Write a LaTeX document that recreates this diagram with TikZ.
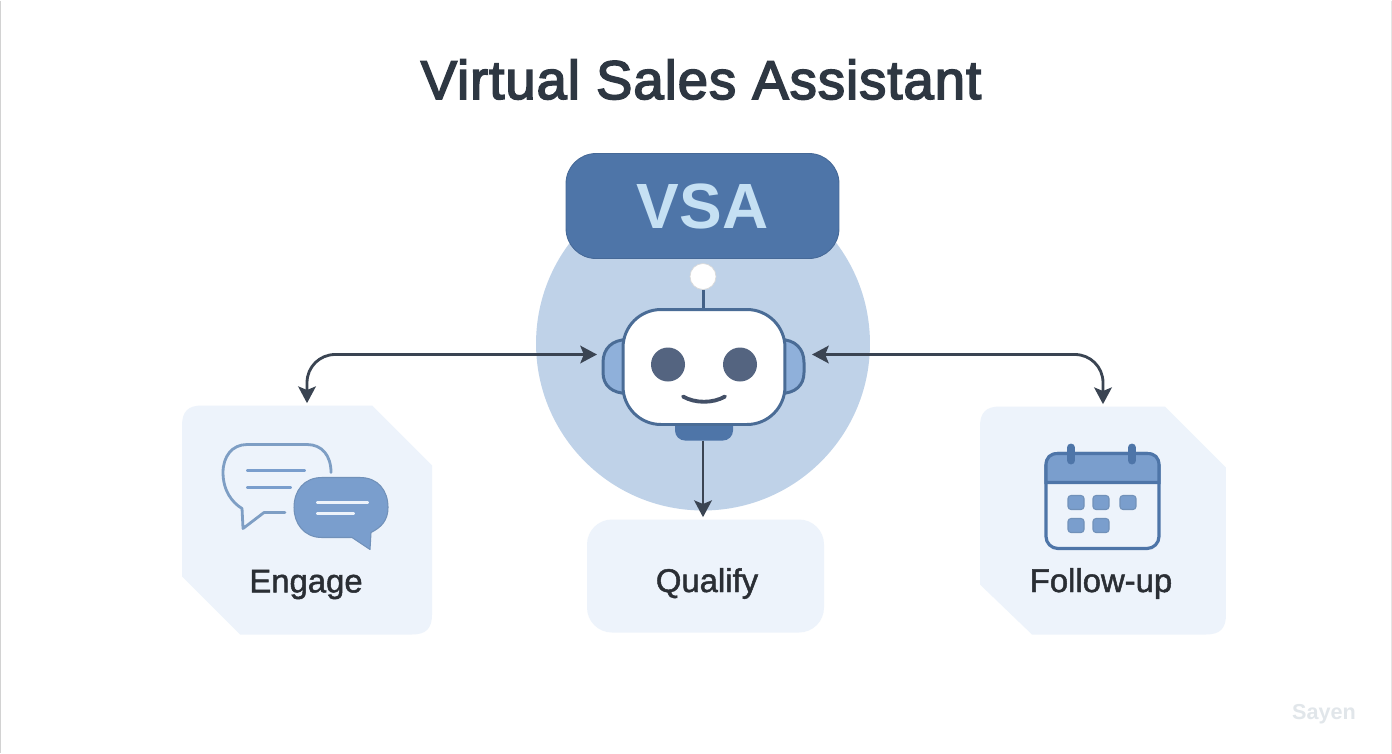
\documentclass[tikz,border=0pt]{standalone}
\usepackage{fontspec}
\setmainfont{Liberation Sans}
\newfontfamily\titlefont[FakeBold=3,LetterSpace=1.8]{Liberation Sans}
\newfontfamily\labelfont[FakeBold=1.5]{Liberation Sans}
\usepackage{tikz}
\usetikzlibrary{positioning,calc,arrows.meta}
\definecolor{titlecolor}{RGB}{46, 55, 66}
\definecolor{labelcolor}{RGB}{42, 46, 52}
\definecolor{cardcolor}{RGB}{237, 243, 251}
\definecolor{circlecolor}{RGB}{191, 210, 232}
\definecolor{badgecolor}{RGB}{78, 117, 168}
\definecolor{badgetext}{RGB}{197, 224, 243}
\definecolor{robotline}{RGB}{74, 108, 150}
\definecolor{earcolor}{RGB}{143, 176, 218}
\definecolor{eyecolor}{RGB}{84, 100, 128}
\definecolor{arrowcolor}{RGB}{58, 68, 82}
\definecolor{iconfill}{RGB}{122, 158, 205}
\definecolor{iconline}{RGB}{126, 158, 196}
\definecolor{markcolor}{RGB}{225, 230, 234}
\begin{document}
\begin{tikzpicture}[
    x=0.02cm, y=-0.02cm,
    title/.style={font=\titlefont\fontsize{31}{36}\selectfont, text=titlecolor, inner sep=0pt},
    label/.style={font=\labelfont\fontsize{18.7}{22}\selectfont, text=labelcolor, inner sep=0pt},
    card/.style={fill=cardcolor},
    anchorbox/.style={inner sep=0pt, minimum height=4.56cm},
    robot/.style={draw=robotline, line width=1.7pt},
    link/.style={{Stealth[length=9.5pt,width=10pt,inset=2pt]}-{Stealth[length=9.5pt,width=10pt,inset=2pt]}, arrowcolor, line width=1.6pt, rounded corners=0.56cm},
    oneway/.style={-{Stealth[length=9.5pt,width=10pt,inset=2pt]}, arrowcolor, line width=1.6pt},
    iconrule/.style={line width=2.2pt, line cap=round},
    daybox/.style={fill=iconfill, draw=badgecolor!80, line width=0.6pt, rounded corners=0.06cm, minimum width=0.32cm, minimum height=0.28cm, inner sep=0pt}
]
    % Page
    \fill[white] (0,0) rectangle (1392,752);
    \draw[gray!35, line width=0.6pt] (0.5,0) -- (0.5,752);
    \draw[gray!20, line width=0.6pt] (1391.5,0) -- (1391.5,752);

    % Title
    \node[title] (heading) at (701,79) {Virtual Sales Assistant};

    % Cards
    \fill[card] (182,425) .. controls (182,411) and (188,405) .. (202,405) -- (372,405) -- (432,465) -- (432,614)
        .. controls (432,628) and (426,634) .. (412,634) -- (240,634) -- (182,576) -- cycle;
    \fill[card, rounded corners=0.5cm] (587,519) rectangle (824,632);
    \fill[card] (980,426) .. controls (980,412) and (986,406) .. (1000,406) -- (1165,406) -- (1226,467) -- (1226,614)
        .. controls (1226,628) and (1220,634) .. (1206,634) -- (1032,634) -- (980,584) -- cycle;

    % Circle behind the robot
    \node[circle, fill=circlecolor, minimum size=6.68cm, inner sep=0pt] (disc) at (703,343) {};

    % Badge
    \node[fill=badgecolor, draw=badgecolor!90!black, line width=0.5pt, rounded corners=0.6cm,
          minimum width=5.46cm, minimum height=2.1cm, text=badgetext,
          font=\fontsize{36.4}{40}\selectfont\bfseries] (badge) at (702.5,205.5) {VSA};

    % Robot ears
    \draw[robot, fill=earcolor] (628,339) .. controls (612,339) and (603,348) .. (603,362) -- (603,372)
        .. controls (603,385) and (612,393) .. (628,393) -- cycle;
    \draw[robot, fill=earcolor] (780,339) .. controls (795,339) and (804,348) .. (804,362) -- (804,372)
        .. controls (804,385) and (795,393) .. (780,393) -- cycle;

    % Robot neck
    \fill[badgecolor, rounded corners=0.2cm] (675,415) -- (733,415) -- (733,440) -- (675,440) -- cycle;

    % Robot antenna
    \node[circle, fill=white, draw=white!85!black, line width=0.4pt, minimum size=0.52cm, inner sep=0pt] (ball) at (703,276) {};
    \coordinate (headtop) at (703,309);
    \draw[robotline!90!black, line width=1.7pt] (ball) -- (headtop);

    % Robot head
    \node[robot, fill=white, rounded corners=0.76cm, minimum width=3.24cm, minimum height=2.3cm, inner sep=0pt] (head) at (704,366.5) {};
    \node[circle, fill=eyecolor, minimum size=0.68cm, inner sep=0pt] (eyeL) at (668,364) {};
    \node[circle, fill=eyecolor, minimum size=0.68cm, inner sep=0pt] (eyeR) at (740,364) {};
    \draw[eyecolor!80!black, line width=2.2pt, line cap=round] (683,396) .. controls (695,403) and (713,403) .. (725,396);

    % Labels
    \node[anchorbox, minimum width=5cm] (engage) at (307,519) {};
    \node[anchorbox, minimum width=2cm, minimum height=2.26cm] (qualify) at (703,575.5) {};
    \node[anchorbox, minimum width=4.92cm] (followup) at (1103,520) {};
    \node[label] (engagetxt) at (306,584) {Engage};
    \node[label] (qualifytxt) at (707,583) {Qualify};
    \node[label] (followtxt) at (1101,583) {Follow-up};

    % Arrows
    \coordinate (tipL) at (597,354);
    \coordinate (tipR) at (812,354);
    \coordinate (neck) at (703,440);
    \draw[link] (tipL) -| ([yshift=0.04cm]engage.north);
    \draw[link] (tipR) -| ([yshift=0.04cm]followup.north);
    \draw[oneway] (neck) -- ([yshift=0.04cm]qualify.north);

    % Chat icon: outline bubble
    \draw[iconline, line width=1.6pt, line cap=round, line join=round] (331,472)
        .. controls (331,455) and (322,444) .. (307,444) -- (247,444)
        .. controls (232,444) and (223,456) .. (223,472)
        .. controls (223,490) and (232,502) .. (242,508) -- (243,528) -- (264,512) -- (285,512);
    \draw[iconfill, iconrule] (248,470) -- (304,470);
    \draw[iconfill, iconrule] (248,487) -- (290,487);

    % Chat icon: filled bubble
    \draw[fill=iconfill, draw=badgecolor!80, line width=0.6pt, line join=round] (322,477) -- (360,477)
        .. controls (378,477) and (388,490) .. (388,507)
        .. controls (388,520) and (381,527) .. (371,532) -- (370,549) -- (352,537) -- (322,537)
        .. controls (304,537) and (294,523) .. (294,507)
        .. controls (294,490) and (304,477) .. (322,477) -- cycle;
    \draw[cardcolor, iconrule] (318,502) -- (367,502);
    \draw[cardcolor, iconrule] (318,513) -- (353,513);

    % Calendar icon
    \draw[badgecolor, line width=1.8pt, rounded corners=0.24cm] (1046,453) rectangle (1159,548);
    \draw[badgecolor, fill=iconfill, line width=1.8pt] (1046,482) -- (1046,465) .. controls (1046,457) and (1050,453) .. (1058,453)
        -- (1147,453) .. controls (1155,453) and (1159,457) .. (1159,465) -- (1159,482) -- cycle;
    \draw[badgecolor, line width=4.5pt, line cap=round] (1071,447) -- (1071,460);
    \draw[badgecolor, line width=4.5pt, line cap=round] (1132,447) -- (1132,460);
    \foreach \x/\y in {1076/502, 1101/502, 1128/502, 1076/525, 1101/525} {
        \node[daybox] (day\x\y) at (\x,\y) {};
    }

    % Watermark
    \node[font=\fontsize{12.3}{15}\selectfont\bfseries, text=markcolor, inner sep=0pt] (mark) at (1324,714) {Sayen};
\end{tikzpicture}
\end{document}
